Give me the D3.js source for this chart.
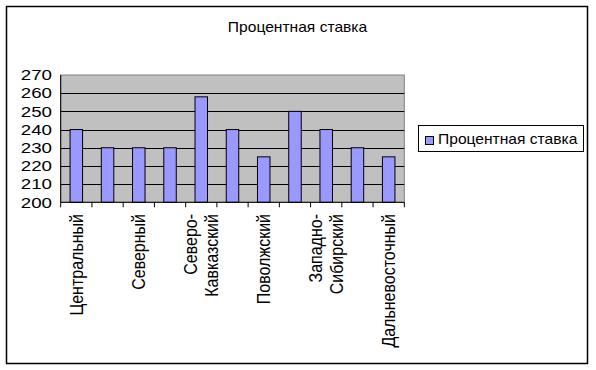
<!DOCTYPE html>
<html>
<head>
<meta charset="utf-8">
<script src="https://cdn.jsdelivr.net/npm/d3@7"></script>
<style>
  body { margin: 0; background: #fff; }
  text { font-family: "Liberation Sans", Arial, sans-serif; fill: #000; }
</style>
</head>
<body>
<svg id="chart" width="596" height="370"></svg>
<script>
const categories = ["Центральный", "Центрально-Черноземный", "Северный", "Северо-Западный",
  "Северо-Кавказский", "Волго-Вятский", "Поволжский", "Уральский",
  "Западно-Сибирский", "Восточно-Сибирский", "Дальневосточный"];
const rates = [240, 230, 230, 230, 258, 240, 225, 250, 240, 230, 225];
const yTicks = [200, 210, 220, 230, 240, 250, 260, 270];
const seriesName = "Процентная ставка";
const title = "Процентная ставка";

const sx = 1.25; // horizontal stretch of the text, as in the picture
const svg = d3.select("#chart");

svg.append("rect").attr("x", 6.5).attr("y", 6.5).attr("width", 581).attr("height", 357)
  .attr("fill", "#fff").attr("stroke", "#000").attr("stroke-width", 1.5);

const plot = { left: 60.7, right: 404.3, top: 75, bottom: 202.3 };

const x = d3.scaleBand().domain(categories).range([plot.left, plot.right]).paddingInner(0.6).paddingOuter(0.3);
const y = d3.scaleLinear().domain([200, 270]).range([plot.bottom, plot.top]);

svg.append("rect").attr("x", plot.left).attr("y", plot.top)
  .attr("width", plot.right - plot.left).attr("height", plot.bottom - plot.top)
  .attr("fill", "#c0c0c0").attr("stroke", "#808080");

svg.append("g").selectAll("line").data(yTicks.slice(1, -1)).join("line")
  .attr("x1", plot.left).attr("x2", plot.right)
  .attr("y1", d => Math.round(y(d)) + 0.5).attr("y2", d => Math.round(y(d)) + 0.5)
  .attr("stroke", "#000");

svg.append("g").selectAll("rect").data(rates).join("rect")
  .attr("x", (d, i) => x(categories[i]))
  .attr("y", d => y(d))
  .attr("width", x.bandwidth())
  .attr("height", d => plot.bottom - y(d))
  .attr("fill", "#9999ff").attr("stroke", "#000").attr("stroke-width", 1);

// axes
svg.append("line").attr("x1", plot.left).attr("x2", plot.left)
  .attr("y1", plot.top).attr("y2", plot.bottom).attr("stroke", "#000");
svg.append("line").attr("x1", plot.left).attr("x2", plot.right)
  .attr("y1", plot.bottom).attr("y2", plot.bottom).attr("stroke", "#000");

const step = x.step();
const edges = d3.range(categories.length + 1).map(i => plot.left + i * step);
svg.append("g").selectAll("line").data(edges).join("line")
  .attr("x1", d => d).attr("x2", d => d)
  .attr("y1", plot.bottom).attr("y2", plot.bottom + 5)
  .attr("stroke", "#000");

svg.append("g").selectAll("text").data(yTicks).join("text")
  .attr("transform", d => `translate(52,${y(d)}) scale(${sx},1)`)
  .attr("text-anchor", "end").attr("dy", "0.35em")
  .style("font-size", "15px")
  .text(d => d);

// category labels, every other one as in the picture
const labelG = svg.append("g");
categories.forEach((c, i) => {
  if (i % 2) return;
  const lines = c.includes("-") ? [c.slice(0, c.indexOf("-") + 1), c.slice(c.indexOf("-") + 1)] : [c];
  const cx = x(c) + x.bandwidth() / 2;
  lines.forEach((t, j) => {
    const off = lines.length === 1 ? 0 : (j === 0 ? -10.5 : 10.5);
    labelG.append("text")
      .attr("transform", `translate(${cx + off},214) scale(1.17,1) rotate(-90)`)
      .attr("text-anchor", "end").attr("dy", "0.35em")
      .style("font-size", "16px")
      .text(t);
  });
});

svg.append("text")
  .attr("transform", `translate(297.5,31.7) scale(1.04,1)`)
  .attr("text-anchor", "middle")
  .style("font-size", "15px")
  .text(title);

// legend
const lg = svg.append("g");
lg.append("rect").attr("x", 418.5).attr("y", 125.5).attr("width", 165).attr("height", 26)
  .attr("fill", "#fff").attr("stroke", "#000");
lg.append("rect").attr("x", 425.5).attr("y", 136.5).attr("width", 8).attr("height", 8)
  .attr("fill", "#9999ff").attr("stroke", "#000");
lg.append("text")
  .attr("transform", `translate(438,143.5) scale(1.04,1)`)
  .style("font-size", "15px")
  .text(seriesName);
</script>
</body>
</html>
